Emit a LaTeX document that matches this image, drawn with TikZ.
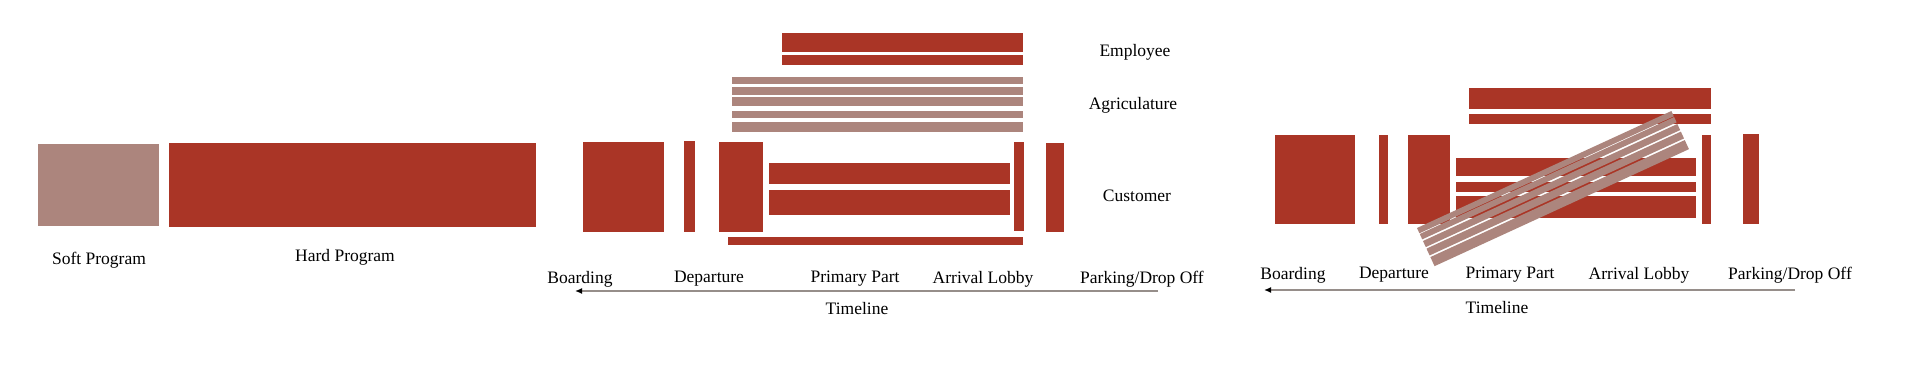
\documentclass[tikz,border=0pt]{standalone}
\usepackage{fontspec}
\setmainfont{Liberation Serif}
\usetikzlibrary{arrows.meta}
\definecolor{hardred}{RGB}{170,53,38}
\definecolor{softpink}{RGB}{172,133,125}
\definecolor{timegray}{RGB}{150,142,138}
\tikzset{
%Define fill styles for the program bars
hard/.style={fill=hardred},
soft/.style={fill=softpink},
%Define style for the labels
tag/.style={font=\fontsize{17.5}{20}\selectfont, inner sep=0pt},
%Define style for the timeline arrow
timeline/.style={draw=timegray, line width=1.3pt, -{Latex[length=7pt,width=6pt,black]}},
}
\begin{document}
\begin{tikzpicture}[x=1pt,y=-1pt]
\useasboundingbox (0,0) rectangle (1920,371);
% Soft and hard program
\fill[soft] (37.5,144) rectangle (159,226);
\fill[hard] (168.6,143) rectangle (536,227);
\node[tag] (soft) at (99,260) {Soft Program};
\node[tag] (hard) at (345,257) {Hard Program};
% Middle panel: employee and agriculture bars
\fill[hard] (782,33) rectangle (1023,52);
\fill[hard] (782,55) rectangle (1023,65);
\foreach \a/\b in {77/84,87/95,97/106,111/118,122/132}
  \fill[soft] (732,\a) rectangle (1023,\b);
% Middle panel: customer bars
\fill[hard] (583,142) rectangle (664,232);
\fill[hard] (684,141) rectangle (695,232);
\fill[hard] (719,142) rectangle (763,232);
\fill[hard] (769,163) rectangle (1010,184);
\fill[hard] (769,190) rectangle (1010,215);
\fill[hard] (1014,142) rectangle (1024,231);
\fill[hard] (1046,143) rectangle (1064,232);
\fill[hard] (728,237) rectangle (1023,245);
\node[tag] (employee) at (1135,52) {Employee};
\node[tag] (agri) at (1133,105) {Agriculature};
\node[tag] (customer) at (1137,196) {Customer};
% Middle panel: timeline
\node[tag] (ma board) at (580,279) {Boarding};
\node[tag] (ma depart) at (709,279) {Departure};
\node[tag] (ma primary) at (855,279) {Primary Part};
\node[tag] (ma arrival) at (983,279) {Arrival Lobby};
\node[tag] (ma park) at (1142,279) {Parking/Drop Off};
\coordinate (ma start) at (1158,291);
\coordinate (ma end) at (575,291);
\draw[timeline] (ma start) -- (ma end);
\node[tag] (ma time) at (857,309) {Timeline};
% Right panel: employee and customer bars
\fill[hard] (1469,88) rectangle (1710.5,109);
\fill[hard] (1469,114) rectangle (1710.5,124);
\fill[hard] (1275,135) rectangle (1354.5,224);
\fill[hard] (1379,135) rectangle (1388,224);
\fill[hard] (1408,135) rectangle (1450,224);
\fill[hard] (1456,158) rectangle (1696,176);
\fill[hard] (1456,182) rectangle (1696,192);
\fill[hard] (1456,196) rectangle (1696,218);
\fill[hard] (1702,135) rectangle (1710.5,224);
\fill[hard] (1742.6,134) rectangle (1759,224);
% Right panel: agriculture bars turned across
\begin{scope}[shift={(1417,228)}, rotate=24.7]
\foreach \a/\b in {0/5.8,6.6/12.5,14.3/21,22.7/30.2,32/42}
  \fill[soft] (0,\a) rectangle (280,\b);
\end{scope}
% Right panel: timeline
\node[tag] (mb board) at (1293,275) {Boarding};
\node[tag] (mb depart) at (1394,275) {Departure};
\node[tag] (mb primary) at (1510,275) {Primary Part};
\node[tag] (mb arrival) at (1639,275) {Arrival Lobby};
\node[tag] (mb park) at (1790,275) {Parking/Drop Off};
\coordinate (mb start) at (1795,290);
\coordinate (mb end) at (1264,290);
\draw[timeline] (mb start) -- (mb end);
\node[tag] (mb time) at (1497,308) {Timeline};
\end{tikzpicture}
\end{document}
